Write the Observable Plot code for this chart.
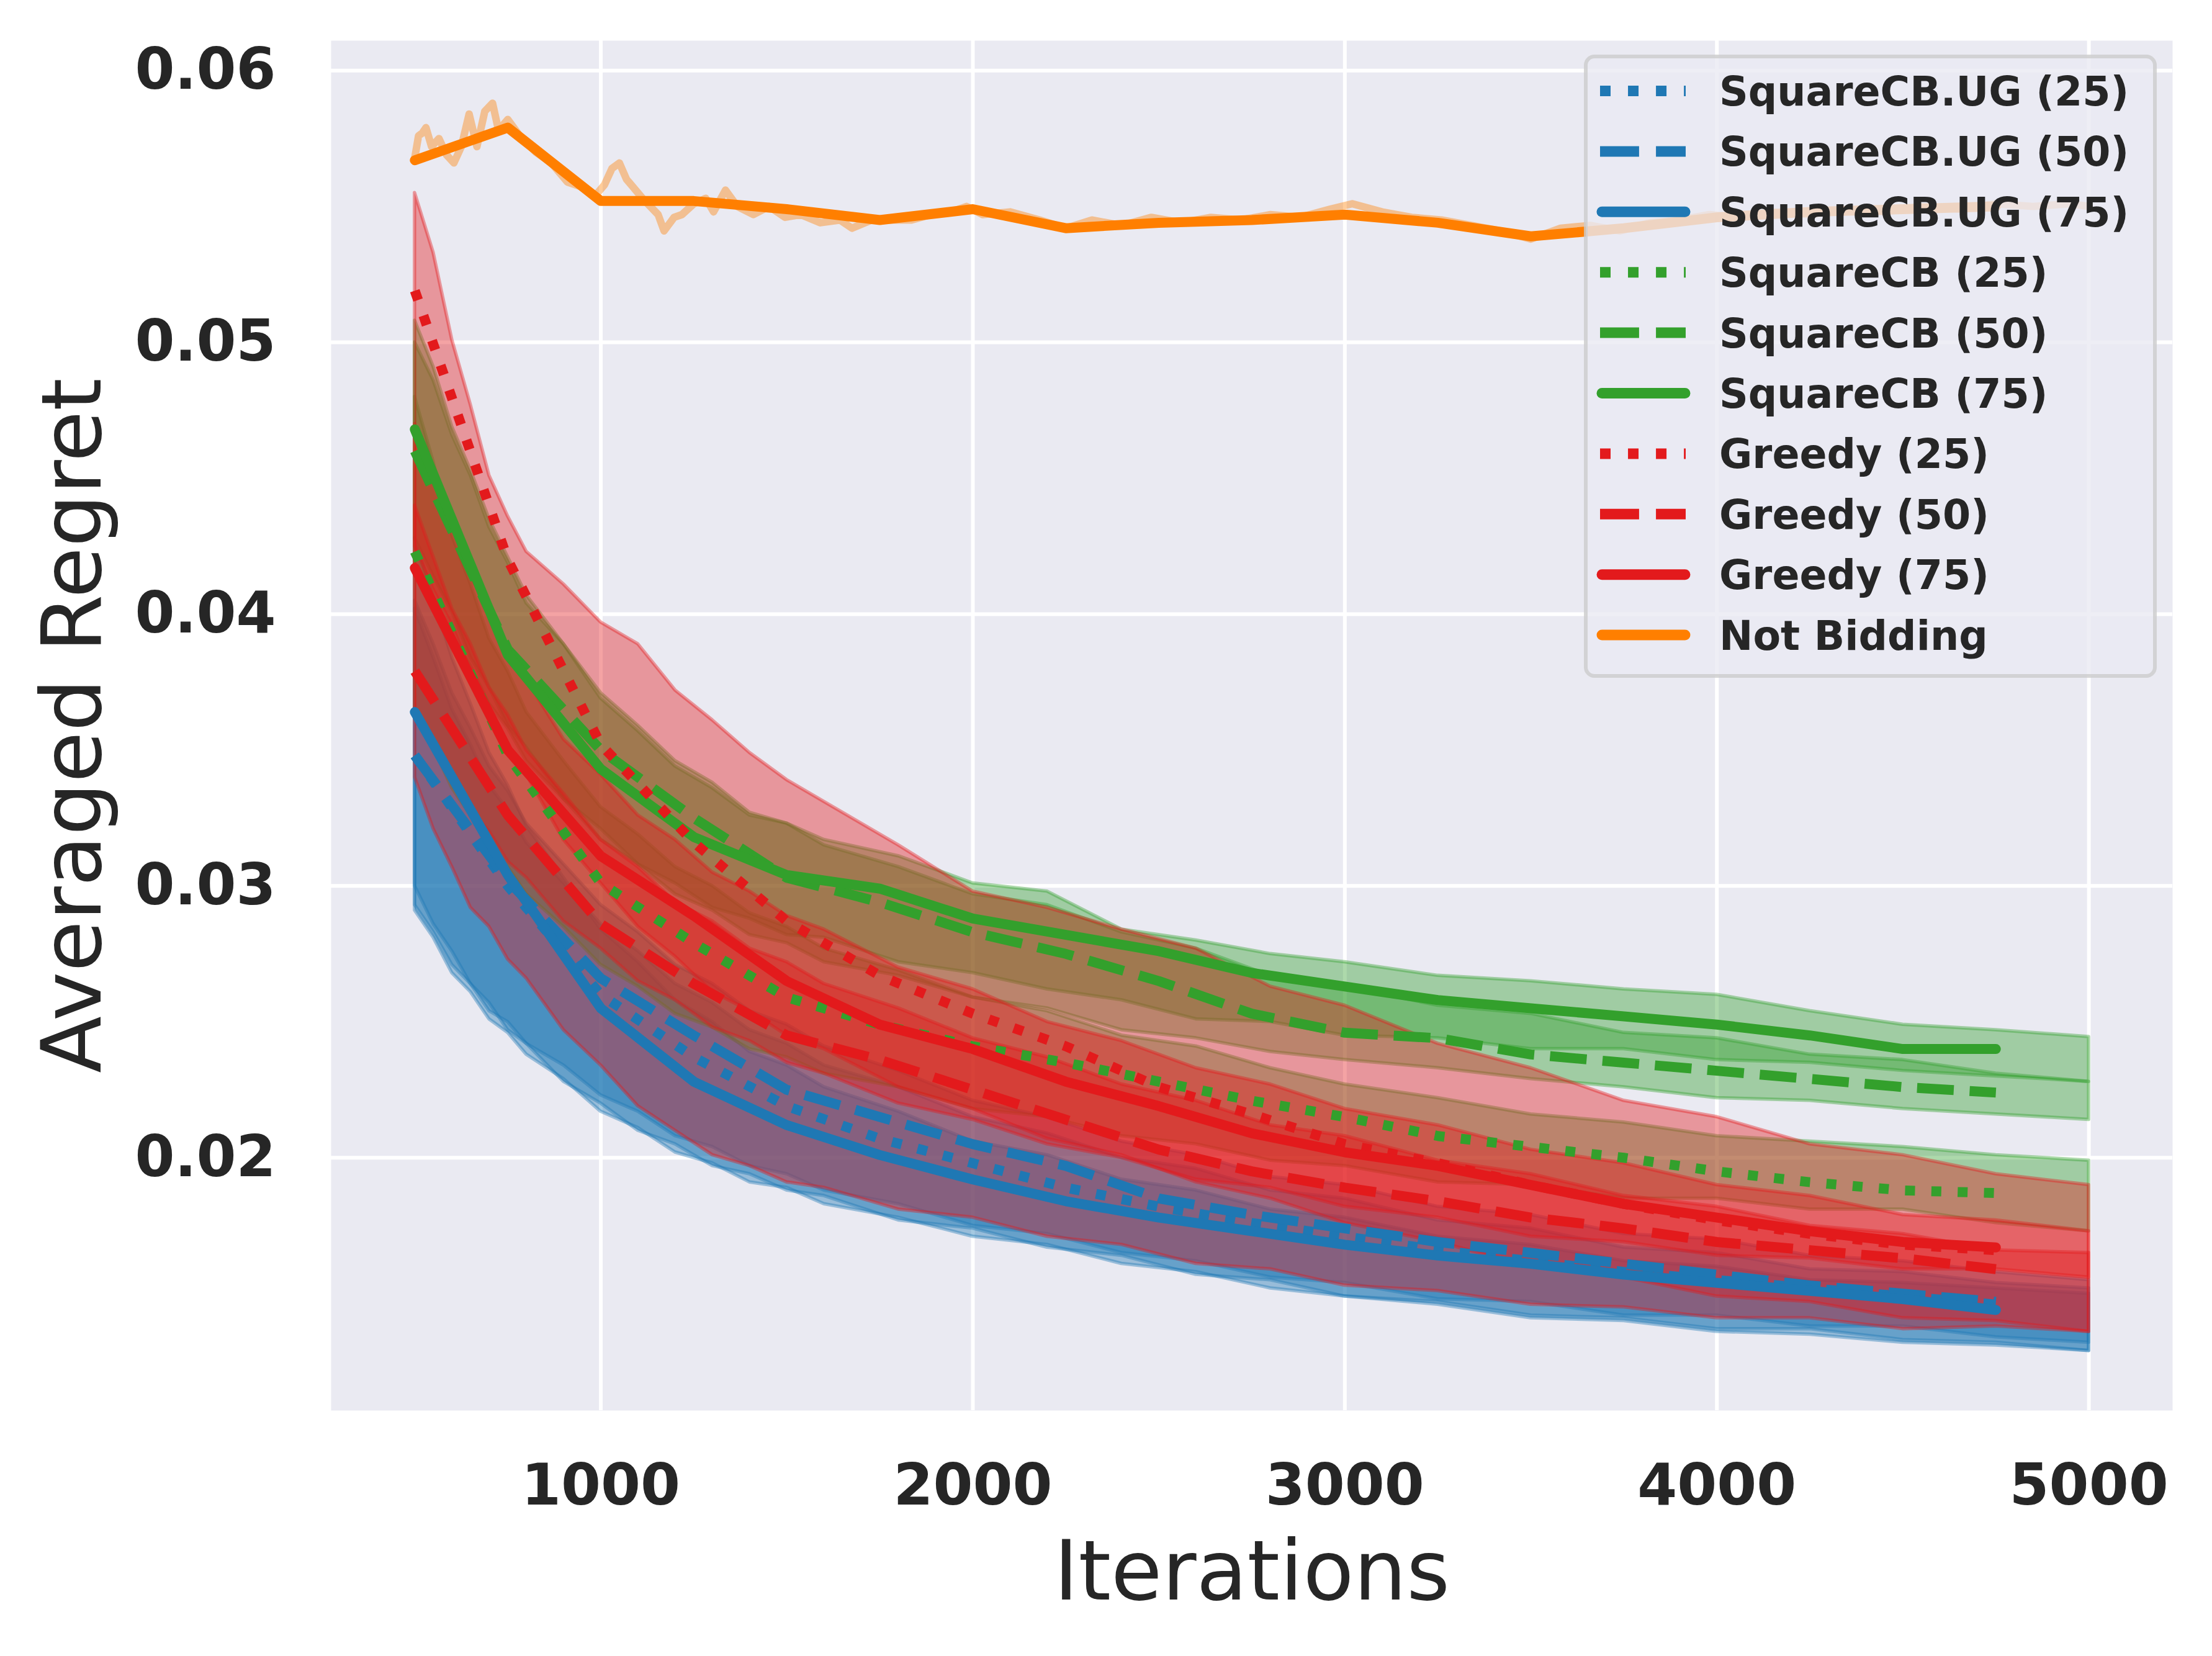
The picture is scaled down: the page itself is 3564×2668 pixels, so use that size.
<!DOCTYPE html>
<html><head><meta charset="utf-8">
<script src="https://cdn.jsdelivr.net/npm/d3@7"></script>
<script src="https://cdn.jsdelivr.net/npm/@observablehq/plot@0.6"></script>
<style>
body{margin:0;background:#fff}
#wrap{position:relative;width:3564px;height:2668px;background:#fff}
#wrap svg{display:block}
#legend{position:absolute;left:0;top:0;pointer-events:none}
</style>
</head><body><div id="wrap"></div>
<script>
// ---------- data ----------
const X_TICKS = [1000, 2000, 3000, 4000, 5000];
const Y_TICKS = [0.02, 0.03, 0.04, 0.05, 0.06];

// iterations at which the mean lines are sampled
const LINE_ITER = [500,750,1000,1250,1500,1750,2000,2250,2500,2750,3000,3250,3500,3750,4000,4250,4500,4750];
const UG25_LINE  = [0.0348,0.0300,0.0260,0.0237,0.0219,0.0207,0.0198,0.0189,0.0182,0.0176,0.0171,0.0166,0.0162,0.0158,0.0155,0.0152,0.0149,0.0146];
const UG50_LINE  = [0.0348,0.0302,0.0266,0.0245,0.0225,0.0215,0.0205,0.0197,0.0185,0.0179,0.0174,0.0169,0.0165,0.0161,0.0157,0.0153,0.0150,0.0147];
const UG75_LINE  = [0.0364,0.0304,0.0255,0.0228,0.0212,0.0201,0.0192,0.0184,0.0178,0.0173,0.0168,0.0164,0.0161,0.0157,0.0154,0.0151,0.0148,0.0144];
const SCB25_LINE = [0.0423,0.0348,0.0301,0.0279,0.0259,0.0249,0.0241,0.0235,0.0228,0.0221,0.0215,0.0208,0.0204,0.0200,0.0195,0.0191,0.0188,0.0187];
const SCB50_LINE = [0.0460,0.0387,0.0350,0.0325,0.0303,0.0294,0.0283,0.0275,0.0265,0.0253,0.0246,0.0244,0.0238,0.0235,0.0232,0.0229,0.0226,0.0224];
const SCB75_LINE = [0.0468,0.0385,0.0343,0.0318,0.0304,0.0299,0.0288,0.0282,0.0276,0.0268,0.0263,0.0258,0.0255,0.0252,0.0249,0.0245,0.0240,0.0240];
const GR25_LINE  = [0.0519,0.0420,0.0352,0.0316,0.0287,0.0267,0.0253,0.0241,0.0226,0.0216,0.0205,0.0198,0.0190,0.0183,0.0177,0.0172,0.0168,0.0166];
const GR50_LINE  = [0.0379,0.0326,0.0286,0.0264,0.0245,0.0236,0.0225,0.0214,0.0203,0.0195,0.0189,0.0184,0.0178,0.0174,0.0169,0.0166,0.0163,0.0159];
const GR75_LINE  = [0.0417,0.0350,0.0311,0.0289,0.0265,0.0249,0.0240,0.0228,0.0219,0.0209,0.0202,0.0197,0.0190,0.0183,0.0178,0.0173,0.0169,0.0167];
const NB_LINE    = [0.0567,0.0579,0.0552,0.0552,0.0549,0.0545,0.0549,0.0542,0.0544,0.0545,0.0547,0.0544,0.0539,0.0542,0.0546,0.0548,0.0549,0.0550];

// iterations at which the confidence bands are read
const BAND_ITER = [500,550,600,650,700,750,800,900,1000,1100,1200,1300,1400,1500,1600,1800,2000,2200,2400,2600,2800,3000,3250,3500,3750,4000,4250,4500,4750,5000];
const UG25_LO  = [0.0291,0.0281,0.0268,0.0261,0.0251,0.0246,0.0238,0.0229,0.0217,0.0211,0.0202,0.0198,0.0191,0.0189,0.0183,0.0178,0.0171,0.0168,0.0161,0.0158,0.0152,0.0149,0.0146,0.0141,0.0140,0.0136,0.0135,0.0132,0.0131,0.0129];
const UG25_HI  = [0.0402,0.0384,0.0365,0.0352,0.0337,0.0328,0.0316,0.0301,0.0286,0.0276,0.0264,0.0257,0.0247,0.0242,0.0234,0.0226,0.0215,0.0209,0.0200,0.0196,0.0188,0.0185,0.0177,0.0174,0.0167,0.0165,0.0159,0.0158,0.0154,0.0152];
const UG50_LO  = [0.0293,0.0283,0.0271,0.0264,0.0254,0.0250,0.0242,0.0234,0.0223,0.0217,0.0208,0.0204,0.0197,0.0194,0.0188,0.0183,0.0175,0.0172,0.0165,0.0162,0.0156,0.0154,0.0148,0.0147,0.0142,0.0142,0.0138,0.0138,0.0134,0.0132];
const UG50_HI  = [0.0405,0.0389,0.0371,0.0358,0.0344,0.0335,0.0323,0.0308,0.0293,0.0283,0.0271,0.0264,0.0254,0.0249,0.0241,0.0232,0.0221,0.0215,0.0206,0.0201,0.0193,0.0190,0.0182,0.0179,0.0172,0.0170,0.0164,0.0162,0.0158,0.0155];
const UG75_LO  = [0.0300,0.0286,0.0276,0.0264,0.0257,0.0247,0.0242,0.0228,0.0220,0.0210,0.0205,0.0197,0.0194,0.0188,0.0186,0.0177,0.0174,0.0167,0.0164,0.0157,0.0155,0.0149,0.0147,0.0142,0.0141,0.0137,0.0137,0.0133,0.0132,0.0129];
const UG75_HI  = [0.0428,0.0406,0.0384,0.0367,0.0349,0.0337,0.0322,0.0303,0.0284,0.0272,0.0258,0.0250,0.0239,0.0234,0.0226,0.0217,0.0206,0.0201,0.0192,0.0188,0.0181,0.0178,0.0171,0.0168,0.0162,0.0160,0.0155,0.0154,0.0152,0.0150];
const SCB25_LO = [0.0365,0.0351,0.0336,0.0326,0.0314,0.0307,0.0297,0.0285,0.0271,0.0263,0.0253,0.0248,0.0240,0.0237,0.0231,0.0226,0.0218,0.0215,0.0208,0.0205,0.0199,0.0197,0.0191,0.0190,0.0185,0.0185,0.0181,0.0181,0.0176,0.0173];
const SCB25_HI = [0.0480,0.0456,0.0429,0.0411,0.0391,0.0379,0.0364,0.0346,0.0329,0.0319,0.0307,0.0300,0.0290,0.0285,0.0277,0.0269,0.0259,0.0254,0.0245,0.0241,0.0233,0.0227,0.0222,0.0216,0.0213,0.0208,0.0206,0.0204,0.0201,0.0199];
const SCB50_LO = [0.0415,0.0406,0.0392,0.0381,0.0367,0.0358,0.0346,0.0332,0.0317,0.0308,0.0297,0.0291,0.0282,0.0279,0.0272,0.0267,0.0259,0.0255,0.0247,0.0244,0.0239,0.0236,0.0233,0.0229,0.0226,0.0222,0.0221,0.0218,0.0216,0.0214];
const SCB50_HI = [0.0500,0.0486,0.0466,0.0451,0.0432,0.0419,0.0404,0.0389,0.0371,0.0359,0.0346,0.0338,0.0327,0.0323,0.0315,0.0307,0.0297,0.0293,0.0283,0.0277,0.0267,0.0263,0.0256,0.0253,0.0246,0.0244,0.0238,0.0236,0.0231,0.0228];
const SCB75_LO = [0.0428,0.0414,0.0401,0.0384,0.0373,0.0359,0.0351,0.0332,0.0321,0.0308,0.0301,0.0292,0.0288,0.0282,0.0281,0.0272,0.0268,0.0262,0.0258,0.0251,0.0250,0.0245,0.0244,0.0240,0.0240,0.0236,0.0235,0.0232,0.0230,0.0228];
const SCB75_HI = [0.0508,0.0491,0.0469,0.0453,0.0435,0.0421,0.0407,0.0389,0.0369,0.0357,0.0344,0.0336,0.0326,0.0323,0.0317,0.0311,0.0301,0.0298,0.0284,0.0280,0.0275,0.0272,0.0267,0.0265,0.0262,0.0260,0.0254,0.0249,0.0247,0.02445];
const GR25_LO  = [0.0425,0.0409,0.0396,0.0379,0.0366,0.0351,0.0341,0.0317,0.0301,0.0285,0.0274,0.0261,0.0254,0.0245,0.0240,0.0226,0.0218,0.0207,0.0201,0.0191,0.0185,0.0176,0.0169,0.0160,0.0156,0.0149,0.0147,0.0141,0.0140,0.0136];
const GR25_HI  = [0.0555,0.0533,0.0501,0.0477,0.0451,0.0436,0.0423,0.0411,0.0397,0.0389,0.0372,0.0361,0.0349,0.0339,0.0331,0.0315,0.0298,0.0292,0.0284,0.0277,0.0263,0.0256,0.0242,0.0233,0.0221,0.0215,0.0205,0.0201,0.0194,0.0190];
const GR50_LO  = [0.0340,0.0321,0.0307,0.0292,0.0285,0.0273,0.0266,0.0247,0.0234,0.0219,0.0210,0.0201,0.0197,0.0191,0.0189,0.0181,0.0178,0.0171,0.0168,0.0161,0.0159,0.0153,0.0151,0.0146,0.0145,0.0141,0.0141,0.0137,0.0138,0.0136];
const GR50_HI  = [0.0440,0.0421,0.0402,0.0389,0.0373,0.0363,0.0350,0.0334,0.0317,0.0307,0.0294,0.0287,0.0277,0.0272,0.0264,0.0255,0.0244,0.0237,0.0227,0.0221,0.0212,0.0208,0.0199,0.0194,0.0186,0.0182,0.0175,0.0172,0.0166,0.0165];
const GR75_LO  = [0.0365,0.0351,0.0341,0.0328,0.0320,0.0309,0.0303,0.0287,0.0277,0.0265,0.0258,0.0248,0.0243,0.0235,0.0231,0.0220,0.0214,0.0205,0.0200,0.0192,0.0189,0.0182,0.0178,0.0171,0.0169,0.0164,0.0163,0.0159,0.0159,0.0156];
const GR75_HI  = [0.0470,0.0449,0.0433,0.0414,0.0401,0.0386,0.0376,0.0354,0.0341,0.0326,0.0317,0.0305,0.0298,0.0289,0.0284,0.0270,0.0262,0.0250,0.0243,0.0233,0.0227,0.0218,0.0212,0.0203,0.0198,0.0190,0.0186,0.0179,0.0177,0.0173];

// raw (unsmoothed) "Not Bidding" trace
const NB_RAW_ITER = [500,510,520,530,545,565,585,605,625,646,667,688,709,725,750,782,825,867,910,953,985,1010,1030,1050,1069,1112,1154,1170,1197,1218,1250,1282,1303,1335,1367,1410,1452,1495,1537,1590,1643,1675,1728,1782,1835,1888,1941,1983,2026,2100,2180,2250,2320,2400,2480,2560,2640,2720,2800,2880,2960,3020,3100,3180,3260,3340,3420,3500,3580,3660,3740,3820,3900,3980,4060,4150,4250,4350,4450,4550,4650,4750,4850,4950,5000];
const NB_RAW = [0.0568,0.0576,0.0577,0.0579,0.0572,0.0575,0.0569,0.0566,0.0572,0.0584,0.0572,0.0585,0.0588,0.0578,0.0582,0.0576,0.0570,0.0566,0.0559,0.0557,0.0554,0.0558,0.0564,0.0566,0.0560,0.0553,0.0547,0.0541,0.0546,0.0547,0.0551,0.0553,0.0548,0.0556,0.0550,0.0547,0.0550,0.0546,0.0547,0.0544,0.0545,0.0542,0.0545,0.0545,0.0545,0.0547,0.0548,0.0550,0.0547,0.0548,0.0545,0.0542,0.0545,0.0543,0.0546,0.0544,0.0546,0.0545,0.0547,0.0546,0.0549,0.0551,0.0548,0.0546,0.0545,0.0543,0.0541,0.0538,0.0542,0.0543,0.0541,0.0544,0.0545,0.0547,0.0546,0.0548,0.0547,0.0549,0.0548,0.0550,0.0549,0.0551,0.0550,0.0551,0.0550];

const LABELS = ["SquareCB.UG (25)","SquareCB.UG (50)","SquareCB.UG (75)","SquareCB (25)","SquareCB (50)","SquareCB (75)","Greedy (25)","Greedy (50)","Greedy (75)","Not Bidding"];

// ---------- styling ----------
const BLUE = "#1f78b4", GREEN = "#33a02c", RED = "#e31a1c", ORANGE = "#ff7f00";
const LW = 16;
const DASH = {dot: `${LW},${LW*1.65}`, dash: `${LW*3.7},${LW*1.6}`, solid: null};

const series = [
  {label: LABELS[0], color: BLUE,  style: "dot",   line: UG25_LINE,  lo: UG25_LO,  hi: UG25_HI},
  {label: LABELS[1], color: BLUE,  style: "dash",  line: UG50_LINE,  lo: UG50_LO,  hi: UG50_HI},
  {label: LABELS[2], color: BLUE,  style: "solid", line: UG75_LINE,  lo: UG75_LO,  hi: UG75_HI},
  {label: LABELS[3], color: GREEN, style: "dot",   line: SCB25_LINE, lo: SCB25_LO, hi: SCB25_HI},
  {label: LABELS[4], color: GREEN, style: "dash",  line: SCB50_LINE, lo: SCB50_LO, hi: SCB50_HI},
  {label: LABELS[5], color: GREEN, style: "solid", line: SCB75_LINE, lo: SCB75_LO, hi: SCB75_HI},
  {label: LABELS[6], color: RED,   style: "dot",   line: GR25_LINE,  lo: GR25_LO,  hi: GR25_HI},
  {label: LABELS[7], color: RED,   style: "dash",  line: GR50_LINE,  lo: GR50_LO,  hi: GR50_HI},
  {label: LABELS[8], color: RED,   style: "solid", line: GR75_LINE,  lo: GR75_LO,  hi: GR75_HI},
  {label: LABELS[9], color: ORANGE,style: "solid", line: NB_LINE,    lo: null,     hi: null}
];

const W = 3564, H = 2668;
const ML = 533, MR = W - 3500, MT = 65, MB = H - 2272;

const marks = [
  Plot.frame({fill: "#eaeaf2", stroke: null}),
  Plot.gridX(X_TICKS, {stroke: "#ffffff", strokeOpacity: 1, strokeWidth: 6}),
  Plot.gridY(Y_TICKS, {stroke: "#ffffff", strokeOpacity: 1, strokeWidth: 6})
];

// raw Not Bidding trace
marks.push(Plot.line(NB_RAW_ITER.map((t, i) => ({t, v: NB_RAW[i]})), {
  x: "t", y: "v", stroke: ORANGE, strokeOpacity: 0.4, strokeWidth: 12, strokeLinejoin: "round"
}));

// bands
for (const s of series) {
  if (!s.lo) continue;
  const data = BAND_ITER.map((t, i) => ({t, lo: s.lo[i], hi: s.hi[i]}));
  marks.push(Plot.areaY(data, {
    x: "t", y1: "lo", y2: "hi",
    fill: s.color, fillOpacity: 0.4,
    stroke: s.color, strokeOpacity: 0.4, strokeWidth: 5.5, strokeLinejoin: "round"
  }));
}
// mean lines
for (const s of series) {
  const data = LINE_ITER.map((t, i) => ({t, v: s.line[i]}));
  marks.push(Plot.line(data, {
    x: "t", y: "v", stroke: s.color, strokeWidth: LW,
    strokeDasharray: DASH[s.style],
    strokeLinecap: s.style === "solid" ? "round" : "butt",
    strokeLinejoin: "round"
  }));
}

marks.push(
  Plot.axisX({ticks: X_TICKS, tickSize: 0, tickPadding: 86, tickFormat: d3.format("d"), label: null, fontSize: 92, fontWeight: "bold"}),
  Plot.axisY({ticks: Y_TICKS, tickSize: 0, tickPadding: 89, tickFormat: d3.format(".2f"), label: null, fontSize: 92, fontWeight: "bold"}),
  Plot.text(["Iterations"], {text: d => d, frameAnchor: "bottom", textAnchor: "middle", lineAnchor: "middle", dy: 262, fontSize: 134, fontWeight: "normal", fill: "#262626"}),
  Plot.text(["Averaged Regret"], {text: d => d, frameAnchor: "left", textAnchor: "middle", lineAnchor: "middle", rotate: -90, dx: -414, fontSize: 134, fontWeight: "normal", fill: "#262626"})
);

const chart = Plot.plot({
  width: W, height: H,
  marginLeft: ML, marginRight: MR, marginTop: MT, marginBottom: MB,
  x: {domain: [275, 5225]},
  y: {domain: [0.0107, 0.0611]},
  style: {fontFamily: "DejaVu Sans", fontSize: "92px", fontWeight: "bold", color: "#262626", background: "#ffffff"},
  marks
});
const wrap = document.getElementById("wrap");
wrap.appendChild(chart);

// ---------- legend overlay ----------
const lg = d3.select(wrap).append("svg").attr("id", "legend").attr("width", W).attr("height", H);
const BX = 2555, BY = 91, BW = 917, BH = 998;
lg.append("rect").attr("x", BX).attr("y", BY).attr("width", BW).attr("height", BH)
  .attr("rx", 14).attr("fill", "#eaeaf2").attr("fill-opacity", 0.8)
  .attr("stroke", "#cccccc").attr("stroke-opacity", 0.8).attr("stroke-width", 6);
const LLW = 17;
const LDASH = {dot: `${LLW},${LLW*1.65}`, dash: `${LLW*3.7},${LLW*1.6}`, solid: null};
series.forEach((s, i) => {
  const cy = 146.5 + i * 97.4;
  lg.append("line").attr("x1", s.style === "solid" ? 2581 : 2578).attr("x2", s.style === "solid" ? 2715 : 2716)
    .attr("y1", cy).attr("y2", cy)
    .attr("stroke", s.color).attr("stroke-width", LLW)
    .attr("stroke-dasharray", LDASH[s.style])
    .attr("stroke-linecap", s.style === "solid" ? "round" : "butt");
  lg.append("text").attr("x", 2770).attr("y", cy + 23.5)
    .attr("font-family", "DejaVu Sans").attr("font-weight", "bold").attr("font-size", 65)
    .attr("fill", "#262626").text(s.label);
});
</script>
</body></html>
